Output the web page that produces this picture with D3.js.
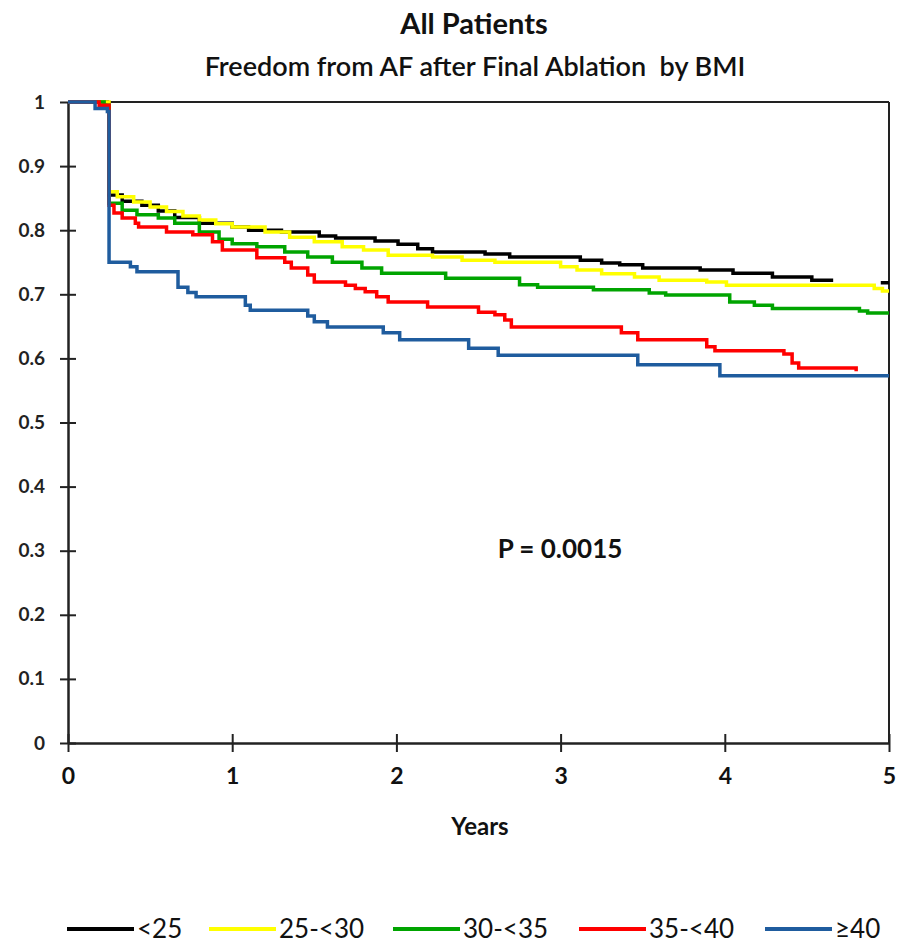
<!DOCTYPE html>
<html>
<head>
<meta charset="utf-8">
<script src="https://cdn.jsdelivr.net/npm/d3@7"></script>
<style>
  html, body { margin: 0; padding: 0; background: #fff; }
  svg { display: block; font-family: Lato, "Open Sans", sans-serif; }
</style>
</head>
<body>
<svg id="chart" width="897" height="945"></svg>
<script>
// ---- Data ----
const seriesNames = ["<25", "25-<30", "30-<35", "35-<40", "\u226540"];
const seriesColors = ["#000000", "#ffff00", "#00a400", "#ff0000", "#1f5c9e"];

const lt25Times  = [0, 0.24, 0.25, 0.33, 0.45, 0.55, 0.65, 0.8, 1.0, 1.1, 1.3, 1.53, 1.63, 1.87, 2.01, 2.13, 2.22, 2.54, 2.69, 3.12, 3.25, 3.36, 3.5, 3.85, 4.05, 4.29, 4.53, 4.66, null, 4.95, 5.0];
const lt25Values = [1, 0.998, 0.855, 0.845, 0.839, 0.830, 0.820, 0.811, 0.805, 0.800, 0.797, 0.791, 0.788, 0.783, 0.778, 0.771, 0.766, 0.763, 0.758, 0.753, 0.749, 0.746, 0.741, 0.738, 0.733, 0.727, 0.722, 0.722, null, 0.718, 0.718];

const b25Times  = [0, 0.25, 0.3, 0.4, 0.5, 0.6, 0.7, 0.8, 0.9, 1.0, 1.2, 1.35, 1.5, 1.67, 1.8, 1.95, 2.22, 2.4, 2.6, 3.0, 3.1, 3.25, 3.45, 3.6, 3.89, 4.01, 4.91, 4.96, 5.0];
const b25Values = [1, 0.860, 0.852, 0.844, 0.836, 0.829, 0.822, 0.816, 0.810, 0.805, 0.797, 0.789, 0.782, 0.774, 0.769, 0.761, 0.758, 0.753, 0.750, 0.743, 0.738, 0.732, 0.727, 0.722, 0.719, 0.714, 0.709, 0.705, 0.705];

const b30Times  = [0, 0.22, 0.25, 0.33, 0.42, 0.55, 0.65, 0.8, 0.92, 1.0, 1.15, 1.32, 1.46, 1.61, 1.79, 1.91, 2.3, 2.75, 2.86, 3.2, 3.54, 3.64, 4.03, 4.18, 4.29, 4.82, 4.87, 5.0];
const b30Values = [1, 0.995, 0.842, 0.831, 0.824, 0.819, 0.811, 0.797, 0.786, 0.779, 0.774, 0.766, 0.758, 0.750, 0.741, 0.733, 0.725, 0.715, 0.711, 0.707, 0.702, 0.699, 0.688, 0.683, 0.678, 0.674, 0.671, 0.671];

const b35Times  = [0, 0.19, 0.25, 0.28, 0.33, 0.41, 0.43, 0.6, 0.76, 0.88, 0.94, 1.15, 1.32, 1.36, 1.46, 1.5, 1.69, 1.75, 1.81, 1.88, 1.95, 2.19, 2.5, 2.6, 2.66, 2.70, 3.37, 3.47, 3.89, 3.94, 4.36, 4.41, 4.45, 4.79, 4.80];
const b35Values = [1, 0.995, 0.839, 0.827, 0.819, 0.811, 0.805, 0.797, 0.793, 0.782, 0.769, 0.757, 0.750, 0.741, 0.730, 0.719, 0.714, 0.709, 0.704, 0.696, 0.688, 0.680, 0.672, 0.668, 0.660, 0.649, 0.640, 0.629, 0.618, 0.612, 0.607, 0.593, 0.585, 0.585, 0.580];

const ge40Times  = [0, 0.165, 0.24, 0.25, 0.38, 0.42, 0.67, 0.73, 0.78, 1.08, 1.11, 1.46, 1.5, 1.58, 1.92, 2.02, 2.44, 2.62, 3.47, 3.97, 5.0];
const ge40Values = [1, 0.990, 0.985, 0.750, 0.743, 0.735, 0.711, 0.703, 0.696, 0.683, 0.675, 0.666, 0.657, 0.649, 0.640, 0.629, 0.616, 0.605, 0.590, 0.573, 0.573];

const xTicks = [0, 1, 2, 3, 4, 5];
const yTicks = [0, 0.1, 0.2, 0.3, 0.4, 0.5, 0.6, 0.7, 0.8, 0.9, 1];

const titleText = "All Patients";
const subtitleText = "Freedom from AF after Final Ablation  by BMI";
const xAxisLabel = "Years";
const pValueText = "P = 0.0015";

// ---- Build ----
const allTimes = [lt25Times, b25Times, b30Times, b35Times, ge40Times];
const allValues = [lt25Values, b25Values, b30Values, b35Values, ge40Values];
const series = seriesNames.map((name, i) => ({
  name, color: seriesColors[i],
  points: allTimes[i].map((t, j) => ({ t, s: allValues[i][j] }))
}));

const svg = d3.select("#chart");
const plot = { left: 68, right: 889, top: 102, bottom: 743 };

const x = d3.scaleLinear().domain([0, 5]).range([plot.left, plot.right]);
const y = d3.scaleLinear().domain([0, 1]).range([plot.bottom, plot.top]);

// Titles
svg.append("text").attr("x", 474).attr("y", 34).attr("text-anchor", "middle")
  .attr("font-size", 29).attr("font-weight", "bold").attr("fill", "#111").text(titleText);
svg.append("text").attr("x", 475).attr("y", 76).attr("text-anchor", "middle")
  .attr("font-size", 27).attr("font-weight", "600").attr("fill", "#111")
  .style("white-space", "pre").text(subtitleText);

// Frame (top and right)
svg.append("line").attr("x1", plot.left).attr("x2", plot.right).attr("y1", plot.top).attr("y2", plot.top)
  .attr("stroke", "#222").attr("stroke-width", 2);
svg.append("line").attr("x1", plot.right).attr("x2", plot.right).attr("y1", plot.top).attr("y2", plot.bottom)
  .attr("stroke", "#222").attr("stroke-width", 2);

// Y axis
const yAxis = d3.axisLeft(y).tickValues(yTicks).tickFormat(d => d3.format("")(+d.toFixed(1)))
  .tickSizeInner(8).tickSizeOuter(0).tickPadding(15);
const gy = svg.append("g").attr("transform", `translate(${plot.left},0)`).call(yAxis);
gy.select(".domain").attr("stroke", "#222").attr("stroke-width", 2.5);
gy.selectAll(".tick line").attr("x2", -8).attr("x1", 8).attr("stroke", "#222").attr("stroke-width", 2);
gy.selectAll(".tick text").attr("font-size", 19).attr("font-weight", "bold").attr("fill", "#222")
  .attr("font-family", "Lato, sans-serif");

// X axis
const xAxis = d3.axisBottom(x).tickValues(xTicks).tickFormat(d3.format("d"))
  .tickSizeInner(9).tickSizeOuter(0).tickPadding(16);
const gx = svg.append("g").attr("transform", `translate(0,${plot.bottom})`).call(xAxis);
gx.select(".domain").attr("stroke", "#222").attr("stroke-width", 2.5);
gx.selectAll(".tick line").attr("y1", -9).attr("y2", 9).attr("stroke", "#222").attr("stroke-width", 2);
gx.selectAll(".tick text").attr("font-size", 23).attr("font-weight", "bold").attr("fill", "#111")
  .attr("font-family", "Lato, sans-serif");

svg.append("text").attr("x", 480).attr("y", 835).attr("text-anchor", "middle")
  .attr("font-size", 24).attr("font-weight", "bold").attr("fill", "#111").text(xAxisLabel);

// Curves
const line = d3.line()
  .defined(d => d.t !== null && d.s !== null)
  .x(d => x(d.t)).y(d => y(d.s))
  .curve(d3.curveStepAfter);

svg.append("g").selectAll("path").data(series).join("path")
  .attr("d", d => line(d.points))
  .attr("fill", "none")
  .attr("stroke", d => d.color)
  .attr("stroke-width", 3.5)
  .attr("stroke-linejoin", "miter");

// P value
svg.append("text").attr("x", 560).attr("y", 558).attr("text-anchor", "middle")
  .attr("font-size", 26).attr("font-weight", "bold").attr("fill", "#111").text(pValueText);

// Legend
const legendX = [67, 209, 393, 579, 765];
const lg = svg.append("g").selectAll("g").data(series).join("g")
  .attr("transform", (d, i) => `translate(${legendX[i]},929)`);
lg.append("line").attr("x1", 0).attr("x2", 67).attr("y1", 0).attr("y2", 0)
  .attr("stroke", d => d.color).attr("stroke-width", 4);
lg.append("text").attr("x", 70).attr("y", 0).attr("dy", "0.35em").attr("font-size", 26)
  .attr("fill", "#111").text(d => d.name);
</script>
</body>
</html>
